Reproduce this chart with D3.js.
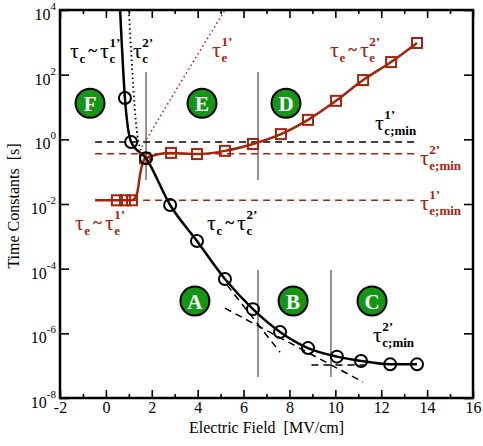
<!DOCTYPE html>
<html>
<head>
<meta charset="utf-8">
<script src="https://cdn.jsdelivr.net/npm/d3@7"></script>
<style>
body { margin:0; background:#fff; }
text { font-family: "Liberation Serif", "DejaVu Serif", serif; }
</style>
</head>
<body>
<svg id="chart"></svg>
<script>
// capture time constant tau_c (black circles)
var fieldC = [0.83, 1.10, 1.75, 2.80, 3.97, 5.19, 6.41, 7.59, 8.81, 10.07, 11.12, 12.39, 13.56];
var tauC   = [19, 0.83, 0.26, 9.3e-3, 7.2e-4, 4.8e-5, 5.6e-6, 1.1e-6, 3.5e-7, 1.9e-7, 1.4e-7, 1.1e-7, 1.1e-7];
// solid black curve (starts above the circles)
var curveCX = [0.62].concat(fieldC);
var curveCY = [1e4].concat(tauC);

// emission time constant tau_e (red squares)
var fieldE = [0.48, 0.83, 1.14, 1.71, 2.84, 3.97, 5.19, 6.41, 7.63, 8.81, 10.03, 11.21, 12.43, 13.56];
var tauE   = [0.013, 0.013, 0.013, 0.26, 0.38, 0.35, 0.44, 0.72, 1.45, 4.0, 15.5, 68, 245, 955];
var curveEX = [-0.47, 0.48, 0.83, 1.14, 1.35, 1.5, 1.62, 1.71, 2.84, 3.97, 5.19, 6.41, 7.63, 8.81, 10.03, 11.21, 12.43, 13.56];
var curveEY = [0.013, 0.013, 0.013, 0.013, 0.02, 0.09, 0.2, 0.26, 0.38, 0.35, 0.44, 0.72, 1.45, 4.0, 15.5, 68, 245, 955];

// dotted branches
var tauC2X = [1.0, 1.4, 1.65], tauC2Y = [1e4, 1, 0.32];
var tauE1X = [1.57, 2.8, 5.19], tauE1Y = [0.58, 16.6, 1e4];

// minimum levels (dashed horizontals)
var minRange = [-0.47, 13.56];
var tauCMin1 = 0.83, tauEMin2 = 0.36, tauEMin1 = 0.013;

// asymptotes in region A/B/C
var asymAX = [5.28, 7.59], asymAY = [3.1e-5, 2.6e-7];
var asymBX = [5.19, 11.21], asymBY = [6.0e-6, 3.1e-8];
var asymCX = [8.96, 11.3], asymCY = [1.05e-7, 1.05e-7];

// region separators
var sepUpperX = [1.75, 6.63], sepUpperY = [120, 0.055];
var sepLowerX = [6.63, 9.81], sepLowerY = [9.1e-5, 4.5e-8];

// region badges
var regionNames = ["F", "E", "D", "A", "B", "C"];
var regionX = [-0.69, 4.19, 7.85, 3.88, 8.16, 11.6];
var regionY = [13, 13, 13, 1e-5, 1e-5, 1e-5];

// axis ticks
var xMajor = [-2, 0, 2, 4, 6, 8, 10, 12, 14, 16];
var xMinor = [-1, 1, 3, 5, 7, 9, 11, 13, 15];
var yMajor = [1e4, 1e2, 1, 1e-2, 1e-4, 1e-6, 1e-8];
var yExp   = ["4", "2", "0", "-2", "-4", "-6", "-8"];

var black = "#000", red = "#a3240c", green = "#169416";

var W = 483, H = 446;
var margin = {top:10, right:10, bottom:48, left:60};
var plotW = W - margin.left - margin.right;
var plotH = H - margin.top - margin.bottom;

var svg = d3.select("#chart").attr("width", W).attr("height", H);
svg.append("rect").attr("width", W).attr("height", H).attr("fill", "#fff");

var g = svg.append("g").attr("transform", "translate(" + margin.left + "," + margin.top + ")");

var x = d3.scaleLinear().domain([-2, 16]).range([0, plotW]);
var y = d3.scaleLog().domain([1e-8, 1e4]).range([plotH, 0]);

svg.append("defs").append("clipPath").attr("id", "clip")
  .append("rect").attr("width", plotW).attr("height", plotH);

var zip = function(xs, ys) { return xs.map(function(v, i) { return [v, ys[i]]; }); };

var line = d3.line().x(function(d) { return x(d[0]); }).y(function(d) { return y(d[1]); });
var smooth = d3.line().x(function(d) { return x(d[0]); }).y(function(d) { return y(d[1]); })
  .curve(d3.curveMonotoneX);

var data = g.append("g").attr("clip-path", "url(#clip)");

// region separators
[[sepUpperX, sepUpperY], [sepLowerX, sepLowerY]].forEach(function(s) {
  s[0].forEach(function(xv) {
    data.append("line")
      .attr("x1", x(xv)).attr("x2", x(xv))
      .attr("y1", y(s[1][0])).attr("y2", y(s[1][1]))
      .attr("stroke", "#6e6e6e").attr("stroke-width", 1.5);
  });
});

// minimum levels
[[tauCMin1, black], [tauEMin2, red], [tauEMin1, red]].forEach(function(m) {
  data.append("path").datum(zip(minRange, [m[0], m[0]]))
    .attr("d", line).attr("fill", "none")
    .attr("stroke", m[1]).attr("stroke-width", 1.5).attr("stroke-dasharray", "7,5");
});

// asymptotes
[[asymAX, asymAY], [asymBX, asymBY], [asymCX, asymCY]].forEach(function(a) {
  data.append("path").datum(zip(a[0], a[1]))
    .attr("d", line).attr("fill", "none")
    .attr("stroke", black).attr("stroke-width", 1.5).attr("stroke-dasharray", "7,5");
});

// dotted branches
data.append("path").datum(zip(tauC2X, tauC2Y))
  .attr("d", smooth).attr("fill", "none")
  .attr("stroke", black).attr("stroke-width", 1.8).attr("stroke-dasharray", "1.5,3");
data.append("path").datum(zip(tauE1X, tauE1Y))
  .attr("d", smooth).attr("fill", "none")
  .attr("stroke", red).attr("stroke-width", 1.5).attr("stroke-dasharray", "1.5,3");

// solid curves
data.append("path").datum(zip(curveEX, curveEY))
  .attr("d", smooth).attr("fill", "none")
  .attr("stroke", red).attr("stroke-width", 2.5);
data.append("path").datum(zip(curveCX, curveCY))
  .attr("d", smooth).attr("fill", "none")
  .attr("stroke", black).attr("stroke-width", 2.5);

// markers
data.selectAll("rect.sq").data(zip(fieldE, tauE)).enter().append("rect")
  .attr("class", "sq")
  .attr("x", function(d) { return x(d[0]) - 5; })
  .attr("y", function(d) { return y(d[1]) - 5; })
  .attr("width", 10).attr("height", 10)
  .attr("fill", "none").attr("stroke", red).attr("stroke-width", 2);
data.selectAll("circle.ci").data(zip(fieldC, tauC)).enter().append("circle")
  .attr("class", "ci")
  .attr("cx", function(d) { return x(d[0]); })
  .attr("cy", function(d) { return y(d[1]); })
  .attr("r", 6)
  .attr("fill", "none").attr("stroke", black).attr("stroke-width", 2);

// region badges
var badges = g.selectAll("g.badge").data(regionNames).enter().append("g")
  .attr("class", "badge")
  .attr("transform", function(d, i) { return "translate(" + x(regionX[i]) + "," + y(regionY[i]) + ")"; });
badges.append("circle").attr("r", 14.5)
  .attr("fill", green).attr("stroke", black).attr("stroke-width", 2);
badges.append("text").text(function(d) { return d; })
  .attr("text-anchor", "middle").attr("y", 7.5)
  .attr("font-family", "Liberation Sans, Arial, sans-serif")
  .attr("font-weight", "bold").attr("font-size", 21).attr("fill", "#fff");

// tau annotations
var ann = g.append("g");
var drawExpr = function(xv, yv, color, terms) {
  var cx = x(xv), cy = y(yv);
  terms.forEach(function(t) {
    if (t === "~") {
      var n = ann.append("text").attr("x", cx + 1).attr("y", cy - 2)
        .attr("font-size", 17).attr("font-weight", "bold").attr("fill", color).text("~");
      cx += n.node().getComputedTextLength() + 4;
      return;
    }
    var tau = ann.append("text").attr("x", cx).attr("y", cy)
      .attr("font-size", 22).attr("fill", color).text("\u03c4");
    cx += tau.node().getComputedTextLength() + 0.5;
    var w = 0;
    if (t.sub) {
      var s = ann.append("text").attr("x", cx).attr("y", cy + 5)
        .attr("font-size", 13).attr("font-weight", "bold").attr("fill", color).text(t.sub);
      w = Math.max(w, s.node().getComputedTextLength());
    }
    if (t.sup) {
      var p = ann.append("text").attr("x", cx).attr("y", cy - 11)
        .attr("font-size", 13).attr("font-weight", "bold").attr("fill", color).text(t.sup);
      w = Math.max(w, p.node().getComputedTextLength());
    }
    cx += w + 2;
  });
};

drawExpr(-1.56, 331, black, [{sub:"c"}, "~", {sub:"c", sup:"1\u2019"}]);
drawExpr(1.18, 331, black, [{sub:"c", sup:"2\u2019"}]);
drawExpr(4.63, 355, red, [{sub:"e", sup:"1\u2019"}]);
drawExpr(9.77, 355, red, [{sub:"e"}, "~", {sub:"e", sup:"2\u2019"}]);
drawExpr(11.73, 1.95, black, [{sub:"c;min", sup:"1\u2019"}]);
drawExpr(13.69, 0.162, red, [{sub:"e;min", sup:"2\u2019"}]);
drawExpr(13.69, 6.5e-3, red, [{sub:"e;min", sup:"1\u2019"}]);
drawExpr(-1.35, 1.6e-3, red, [{sub:"e"}, "~", {sub:"e", sup:"1\u2019"}]);
drawExpr(4.41, 1.6e-3, black, [{sub:"c"}, "~", {sub:"c", sup:"2\u2019"}]);
drawExpr(11.64, 5.4e-7, black, [{sub:"c;min", sup:"2\u2019"}]);

// axes (ticks inward on all sides)
var styleAxis = function(sel) {
  sel.select(".domain").remove();
  sel.selectAll(".tick line").attr("stroke", black).attr("stroke-width", 1.6);
};
g.append("g").attr("transform", "translate(0," + plotH + ")")
  .call(d3.axisBottom(x).tickValues(xMajor).tickSize(-8).tickPadding(4)
    .tickFormat(function(d) { return String(d); }))
  .call(styleAxis)
  .selectAll("text").attr("font-size", 16).attr("fill", black)
  .attr("font-family", "Liberation Serif, serif");
g.append("g").attr("transform", "translate(0," + plotH + ")")
  .call(d3.axisBottom(x).tickValues(xMinor).tickSize(-4).tickFormat(""))
  .call(styleAxis);
g.append("g")
  .call(d3.axisTop(x).tickValues(xMajor).tickSize(-8).tickFormat(""))
  .call(styleAxis);
g.append("g")
  .call(d3.axisTop(x).tickValues(xMinor).tickSize(-4).tickFormat(""))
  .call(styleAxis);
g.append("g")
  .call(d3.axisLeft(y).tickValues(yMajor).tickSize(-9).tickFormat(""))
  .call(styleAxis);
g.append("g").attr("transform", "translate(" + plotW + ",0)")
  .call(d3.axisRight(y).tickValues(yMajor).tickSize(-9).tickFormat(""))
  .call(styleAxis);

// y tick labels 10^n
var yl = g.selectAll("text.ylab").data(yMajor).enter().append("text")
  .attr("class", "ylab")
  .attr("x", -4)
  .attr("y", function(d) { return y(d) + 10; })
  .attr("text-anchor", "end").attr("font-size", 16).attr("fill", black);
yl.append("tspan").text("10");
yl.append("tspan").attr("dy", -10).attr("font-size", 11)
  .text(function(d, i) { return yExp[i]; });

// frame
g.append("rect").attr("width", plotW).attr("height", plotH)
  .attr("fill", "none").attr("stroke", black).attr("stroke-width", 2.5);

// axis titles
svg.append("text")
  .attr("x", margin.left + plotW / 2).attr("y", 433)
  .attr("text-anchor", "middle").attr("font-size", 16)
  .style("white-space", "pre")
  .text("Electric Field  [MV/cm]");
svg.append("text")
  .attr("transform", "translate(19," + (margin.top + plotH / 2 + 2) + ") rotate(-90)")
  .attr("text-anchor", "middle").attr("font-size", 16)
  .style("white-space", "pre")
  .text("Time Constants  [s]");
</script>
</body>
</html>
